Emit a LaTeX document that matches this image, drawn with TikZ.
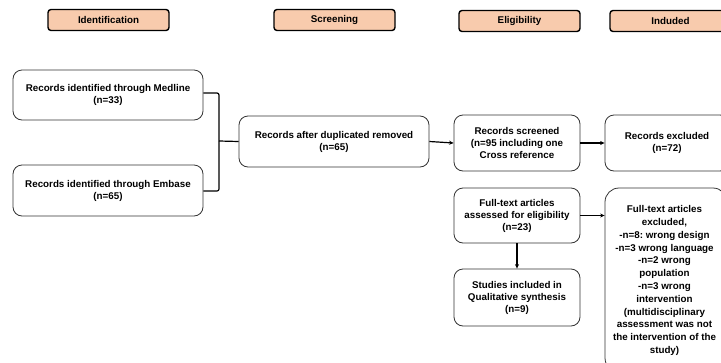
\documentclass[tikz,border=0pt]{standalone}
\usepackage{fontspec}
\setmainfont{Liberation Sans}
\frenchspacing
\usetikzlibrary{arrows.meta}
\definecolor{peach}{HTML}{F8CBAD}
\definecolor{boxline}{HTML}{333333}
\begin{document}
\begin{tikzpicture}[x=1pt,y=-1pt,
  every node/.style={font=\fontsize{9.8}{12}\selectfont\bfseries, align=center, inner sep=0pt},
  header/.style={draw=black, line width=1.4pt, fill=peach, rounded corners=3pt, minimum height=21pt, minimum width=121pt},
  box/.style={draw=boxline, line width=0.8pt, rounded corners=9pt, fill=white},
  conn/.style={line width=1.2pt, -{Stealth[length=4.5pt,width=4pt]}}
]
\useasboundingbox (0,0) rectangle (721,362);
\fill[white] (0,0) rectangle (721,362);
% headers
\node[header] (hid) at (108.5,20) {Identification};
\node[header] (hsc) at (334.5,20) {Screening};
\node[header] (hel) at (519.5,21) {Eligibility};
\node[header] (hin) at (670.5,21) {Induded};
% boxes
\node[box, minimum width=190pt, minimum height=50pt] (medline) at (108,95) {Records identified through Medline\\(n=33)};
\node[box, minimum width=190pt, minimum height=51pt] (embase) at (108,190.5) {Records identified through Embase\\(n=65)};
\node[box, minimum width=190pt, minimum height=51pt] (dup) at (334,141.5) {Records after duplicated removed\\(n=65)};
\node[box, minimum width=126pt, minimum height=56pt] (scr) at (517,143) {Records screened\\(n=95 including one\\Cross reference};
\node[box, minimum width=124pt, minimum height=56pt] (exc) at (667,143) {Records excluded\\(n=72)};
\node[box, minimum width=126pt, minimum height=55pt] (ass) at (517,215.5) {Full-text articles\\assessed for eligibility\\(n=23)};
\node[box, minimum width=126pt, minimum height=57pt] (stu) at (517,297.5) {Studies included in\\Qualitative synthesis\\(n=9)};
\node[box, rounded corners=14pt, minimum width=122pt, minimum height=184pt] (fte) at (666,280) {};
\node[font=\fontsize{9.8}{12.8}\selectfont\bfseries] (ftetext) at (664.5,280.5) {Full-text articles\\excluded,\\-n=8: wrong design\\-n=3 wrong language\\-n=2 wrong\\population\\-n=3 wrong\\intervention\\(multidisciplinary\\assessment was not\\the intervention of the\\study)};
% bracket
\coordinate (br) at (219,141);
\draw[line width=1.2pt, rounded corners=2pt] (medline.east |- 0,93) -- (br |- 0,93) -- (br |- 0,191) -- (embase.east |- 0,191);
\draw[line width=1.2pt] (br) -- (dup.west);
% arrows
\draw[conn] (dup.east) -- (scr.west);
\draw[conn] (scr.east) -- (exc.west);
\draw[conn] (ass.east) -- (ass.east -| fte.west);
\draw[conn] (ass.south) -- (stu.north);
\end{tikzpicture}
\end{document}
